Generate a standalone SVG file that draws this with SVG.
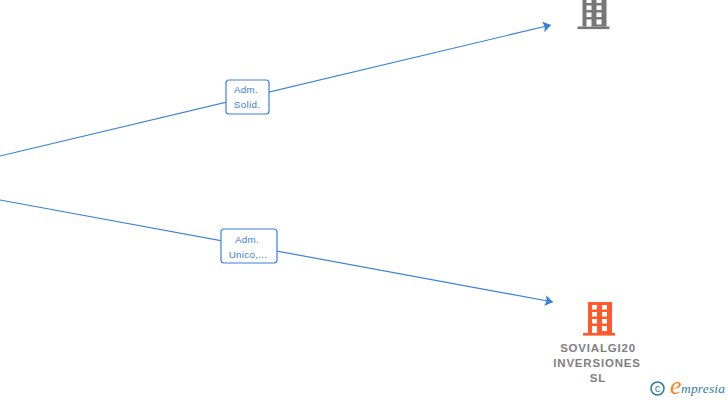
<svg xmlns="http://www.w3.org/2000/svg" width="728" height="400" viewBox="0 0 728 400">
<style>
.edge{fill:none;stroke:#3a80dc;stroke-width:1.2}
.lb{fill:#fff;stroke:#3a80dc;stroke-width:1.2}
.lt{font:9.8px "Liberation Sans",Arial,sans-serif;fill:#3a80dc;text-anchor:middle;letter-spacing:.3px}
.nm{font:bold 11.5px "Liberation Sans",Arial,sans-serif;fill:#7f7f7f;text-anchor:middle;letter-spacing:.8px}
.win{fill:#fff}
</style>
<defs>
<marker id="arr" markerUnits="userSpaceOnUse" markerWidth="10" markerHeight="12" refX="8" refY="5.5" orient="auto"><path d="M0 0L8 5.5L0 11L1.5 5.5Z" fill="#3a80dc"/></marker>
<g id="bld">
<rect x="5" y="0" width="24" height="31"/><rect x="0" y="31" width="32" height="2.6"/>
<g class="win">
<rect x="9" y="3" width="5" height="4.5"/><rect x="19" y="3" width="5" height="4.5"/>
<rect x="9" y="10" width="5" height="4.5"/><rect x="19" y="10" width="5" height="4.5"/>
<rect x="9" y="17" width="5" height="4.5"/><rect x="19" y="17" width="5" height="4.5"/>
<rect x="9" y="24" width="5" height="7"/><rect x="19" y="24" width="5" height="5"/>
</g></g>
</defs>
<g id="connectors">
<path class="edge" d="M0 156L551 25" marker-end="url(#arr)"/>
<path class="edge" d="M0 200L553 302" marker-end="url(#arr)"/>
</g>
<g id="label1"><rect class="lb" x="226" y="80" width="43" height="34" rx="3"/><text class="lt" x="246" y="93">Adm.</text><text class="lt" x="247" y="108">Solid.</text></g>
<g id="label2"><rect class="lb" x="221" y="229" width="56" height="34" rx="3"/><text class="lt" x="247" y="243">Adm.</text><text class="lt" x="248" y="258">Unico,...</text></g>
<g id="node-top"><use href="#bld" x="577.500" y="-4.500" fill="#777"/></g>
<g id="node-sovialgi"><use href="#bld" x="583" y="302" fill="#ff5a2c"/>
<text class="nm" x="598" y="352">SOVIALGI20</text><text class="nm" x="597" y="367">INVERSIONES</text><text class="nm" x="598" y="382">SL</text></g>
<g id="logo">
<circle cx="657.500" cy="388.500" r="6.500" fill="none" stroke="#2f7f9f" stroke-width="1.6"/>
<text x="657.500" y="392" font-family="Liberation Sans,sans-serif" font-size="11" fill="#2f7f9f" text-anchor="middle">c</text>
<text x="670" y="394" font-family="Liberation Serif,serif" font-style="italic" font-size="26" fill="#f08a1c">e</text>
<text x="681" y="393" font-family="Liberation Serif,serif" font-style="italic" font-size="13.500" fill="#2f7f9f" textLength="44">mpresia</text>
</g>
</svg>
